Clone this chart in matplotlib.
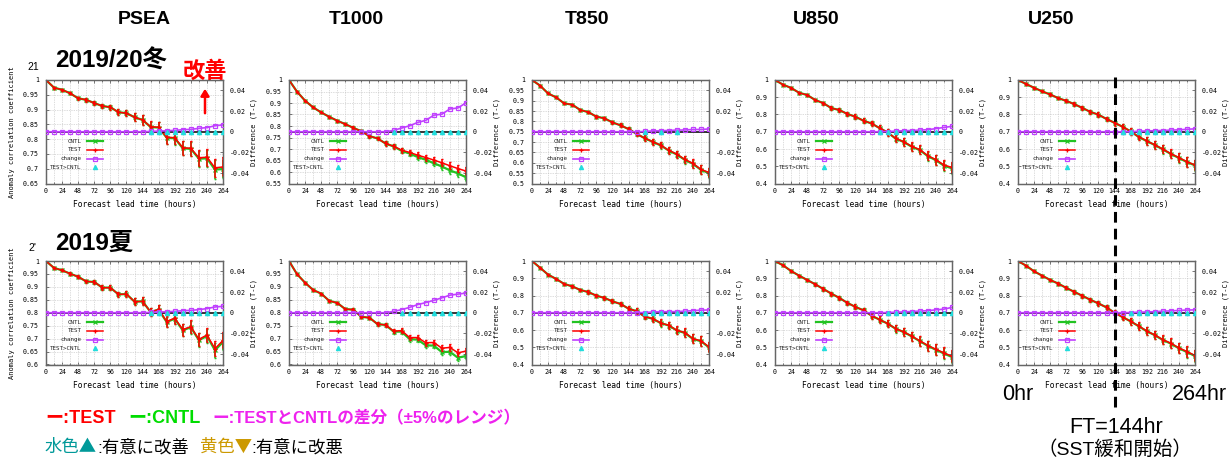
import matplotlib
matplotlib.use("Agg")
import matplotlib.pyplot as plt
from matplotlib.lines import Line2D
from matplotlib.ticker import FixedLocator, MultipleLocator, FuncFormatter
from matplotlib.transforms import blended_transform_factory

# ---------------- data ----------------
FT = [0, 12, 24, 36, 48, 60, 72, 84, 96, 108, 120, 132, 144,
      156, 168, 180, 192, 204, 216, 228, 240, 252, 264]
XTICKS = [0, 24, 48, 72, 96, 120, 144, 168, 192, 216, 240, 264]
DIFF_TICKS = [-0.04, -0.02, 0, 0.02, 0.04]
COLUMNS = ["PSEA", "T1000", "T850", "U850", "U250"]
ROW_LABELS = ["2019/20冬", "2019夏"]

# ---- row 1 : 2019/20 winter ----
W_PSEA_TEST = [1.000, 0.974, 0.967, 0.955, 0.938, 0.933, 0.922, 0.912, 0.908, 0.891, 0.888, 0.874, 0.865,
               0.842, 0.840, 0.806, 0.805, 0.771, 0.769, 0.737, 0.739, 0.703, 0.706]
W_PSEA_CNTL = [1.000, 0.974, 0.967, 0.955, 0.938, 0.933, 0.922, 0.912, 0.908, 0.891, 0.888, 0.874, 0.865,
               0.841, 0.839, 0.805, 0.803, 0.769, 0.767, 0.734, 0.735, 0.697, 0.699]
W_PSEA_DIFF = [0, 0, 0, 0, 0, 0, 0, 0, 0, 0, 0, 0, 0,
               0.0003, 0.0006, 0.0010, 0.0013, 0.0020, 0.0023, 0.0033, 0.0040, 0.0058, 0.0066]
W_PSEA_ERR = [0, 0.003, 0.004, 0.004, 0.006, 0.006, 0.007, 0.008, 0.009, 0.010, 0.011, 0.013, 0.016,
              0.018, 0.019, 0.021, 0.022, 0.024, 0.025, 0.027, 0.029, 0.031, 0.032]
W_PSEA_SIG = [156, 168, 180, 192, 204, 216, 228, 240, 252, 264]

W_T1000_TEST = [1.000, 0.949, 0.910, 0.881, 0.859, 0.840, 0.823, 0.808, 0.792, 0.777, 0.756, 0.746, 0.724,
                0.712, 0.695, 0.685, 0.673, 0.663, 0.652, 0.640, 0.627, 0.615, 0.604]
W_T1000_CNTL = [1.000, 0.949, 0.910, 0.881, 0.859, 0.840, 0.823, 0.808, 0.792, 0.777, 0.756, 0.746, 0.724,
                0.711, 0.692, 0.680, 0.665, 0.653, 0.638, 0.624, 0.607, 0.594, 0.577]
W_T1000_DIFF = [0, 0, 0, 0, 0, 0, 0, 0, 0, 0, 0, 0, 0,
                0.0013, 0.0036, 0.0058, 0.0090, 0.0110, 0.0160, 0.0170, 0.0220, 0.0230, 0.0280]
W_T1000_ERR = [0, 0.002, 0.003, 0.003, 0.004, 0.004, 0.005, 0.005, 0.006, 0.006, 0.007, 0.008, 0.009,
               0.010, 0.011, 0.012, 0.013, 0.013, 0.014, 0.015, 0.016, 0.016, 0.017]
W_T1000_SIG = [156, 168, 180, 192, 204, 216, 228, 240, 252, 264]

W_T850_TEST = [1.000, 0.973, 0.935, 0.916, 0.887, 0.881, 0.855, 0.845, 0.823, 0.815, 0.795, 0.781, 0.763,
               0.740, 0.719, 0.702, 0.685, 0.660, 0.642, 0.616, 0.597, 0.568, 0.553]
W_T850_CNTL = [1.000, 0.973, 0.935, 0.916, 0.887, 0.881, 0.855, 0.845, 0.823, 0.815, 0.795, 0.781, 0.763,
               0.740, 0.719, 0.701, 0.684, 0.659, 0.640, 0.614, 0.595, 0.566, 0.550]
W_T850_DIFF = [0, 0, 0, 0, 0, 0, 0, 0, 0, 0, 0, 0, 0,
               0, 0.0003, 0.0008, 0.0010, 0.0012, 0.0016, 0.0017, 0.0022, 0.0022, 0.0027]
W_T850_ERR = [0, 0.002, 0.003, 0.003, 0.004, 0.004, 0.005, 0.005, 0.006, 0.007, 0.008, 0.009, 0.010,
              0.012, 0.013, 0.014, 0.015, 0.016, 0.017, 0.019, 0.020, 0.022, 0.023]
W_T850_SIG = [168, 192, 216]

W_U850_TEST = [1.000, 0.973, 0.954, 0.926, 0.913, 0.884, 0.866, 0.837, 0.826, 0.803, 0.787, 0.764, 0.748,
               0.721, 0.696, 0.661, 0.642, 0.615, 0.596, 0.561, 0.538, 0.507, 0.493]
W_U850_CNTL = [1.000, 0.973, 0.954, 0.926, 0.913, 0.884, 0.866, 0.837, 0.826, 0.803, 0.787, 0.764, 0.748,
               0.721, 0.696, 0.660, 0.641, 0.613, 0.594, 0.558, 0.535, 0.503, 0.488]
W_U850_DIFF = [0, 0, 0, 0, 0, 0, 0, 0, 0, 0, 0, 0, 0,
               0, 0.0002, 0.0006, 0.0010, 0.0012, 0.0016, 0.0020, 0.0030, 0.0042, 0.0052]
W_U850_ERR = [0, 0.004, 0.005, 0.006, 0.007, 0.008, 0.009, 0.010, 0.011, 0.012, 0.013, 0.015, 0.016,
              0.017, 0.019, 0.021, 0.022, 0.024, 0.025, 0.027, 0.028, 0.030, 0.032]
W_U850_SIG = [156, 168, 180, 192, 204, 216, 228, 240, 252, 264]

W_U250_TEST = [1.000, 0.977, 0.955, 0.934, 0.916, 0.895, 0.879, 0.860, 0.838, 0.815, 0.799, 0.774, 0.752,
               0.729, 0.702, 0.671, 0.647, 0.624, 0.599, 0.573, 0.550, 0.526, 0.507]
W_U250_CNTL = [1.000, 0.977, 0.955, 0.934, 0.916, 0.895, 0.879, 0.860, 0.838, 0.815, 0.799, 0.774, 0.752,
               0.729, 0.702, 0.670, 0.646, 0.623, 0.598, 0.571, 0.548, 0.524, 0.505]
W_U250_DIFF = [0, 0, 0, 0, 0, 0, 0, 0, 0, 0, 0, 0, 0,
               0, 0, 0.0005, 0.0008, 0.0010, 0.0012, 0.0016, 0.0018, 0.0024, 0.0028]
W_U250_ERR = [0, 0.004, 0.005, 0.006, 0.007, 0.008, 0.009, 0.010, 0.011, 0.012, 0.013, 0.014, 0.016,
              0.017, 0.019, 0.020, 0.022, 0.023, 0.025, 0.026, 0.028, 0.029, 0.031]
W_U250_SIG = [156, 168, 180, 192, 204, 216, 228, 240, 252, 264]

# ---- row 2 : 2019 summer ----
S_PSEA_TEST = [1.000, 0.973, 0.964, 0.951, 0.939, 0.921, 0.919, 0.897, 0.897, 0.871, 0.872, 0.843, 0.844,
               0.803, 0.813, 0.766, 0.779, 0.735, 0.746, 0.697, 0.714, 0.661, 0.693]
S_PSEA_CNTL = [1.000, 0.973, 0.964, 0.951, 0.939, 0.921, 0.919, 0.897, 0.897, 0.871, 0.872, 0.843, 0.844,
               0.803, 0.812, 0.764, 0.777, 0.732, 0.744, 0.694, 0.710, 0.655, 0.687]
S_PSEA_DIFF = [0, 0, 0, 0, 0, 0, 0, 0, 0, 0, 0, 0, 0,
               0.0003, 0.0007, 0.0010, 0.0013, 0.0020, 0.0023, 0.0030, 0.0040, 0.0056, 0.0062]
S_PSEA_ERR = [0, 0.003, 0.004, 0.005, 0.006, 0.007, 0.008, 0.009, 0.010, 0.011, 0.012, 0.014, 0.015,
              0.017, 0.018, 0.020, 0.021, 0.023, 0.025, 0.026, 0.028, 0.030, 0.031]
S_PSEA_SIG = [156, 168, 180, 192, 204, 216, 228, 240, 252, 264]

S_T1000_TEST = [1.000, 0.949, 0.916, 0.888, 0.874, 0.846, 0.838, 0.814, 0.812, 0.784, 0.781, 0.756, 0.753,
                0.729, 0.731, 0.704, 0.704, 0.684, 0.685, 0.663, 0.666, 0.645, 0.652]
S_T1000_CNTL = [1.000, 0.949, 0.916, 0.888, 0.874, 0.846, 0.838, 0.814, 0.812, 0.784, 0.781, 0.756, 0.753,
                0.727, 0.727, 0.698, 0.696, 0.674, 0.673, 0.648, 0.649, 0.626, 0.633]
S_T1000_DIFF = [0, 0, 0, 0, 0, 0, 0, 0, 0, 0, 0, 0, 0,
                0.0013, 0.0030, 0.0052, 0.0079, 0.0098, 0.0120, 0.0144, 0.0170, 0.0180, 0.0190]
S_T1000_ERR = [0, 0.002, 0.003, 0.003, 0.004, 0.004, 0.005, 0.005, 0.006, 0.006, 0.007, 0.007, 0.008,
               0.008, 0.009, 0.010, 0.010, 0.011, 0.011, 0.012, 0.012, 0.013, 0.013]
S_T1000_SIG = [168, 180, 192, 204, 216, 228, 240, 252, 264]

S_T850_TEST = [1.000, 0.961, 0.921, 0.896, 0.867, 0.853, 0.832, 0.820, 0.799, 0.786, 0.766, 0.751, 0.724,
               0.709, 0.678, 0.666, 0.641, 0.627, 0.598, 0.585, 0.550, 0.537, 0.502]
S_T850_CNTL = [1.000, 0.961, 0.921, 0.896, 0.867, 0.853, 0.832, 0.820, 0.799, 0.786, 0.766, 0.751, 0.724,
               0.709, 0.678, 0.665, 0.640, 0.626, 0.597, 0.583, 0.548, 0.535, 0.499]
S_T850_DIFF = [0, 0, 0, 0, 0, 0, 0, 0, 0, 0, 0, 0, 0,
               0, 0.0002, 0.0007, 0.0010, 0.0010, 0.0011, 0.0015, 0.0020, 0.0025, 0.0027]
S_T850_ERR = [0, 0.003, 0.004, 0.005, 0.006, 0.007, 0.008, 0.009, 0.010, 0.011, 0.012, 0.013, 0.014,
              0.016, 0.017, 0.019, 0.020, 0.022, 0.023, 0.025, 0.026, 0.028, 0.029]
S_T850_SIG = [168, 180, 192, 204, 216, 228, 240, 252, 264]

S_U850_TEST = [1.000, 0.975, 0.942, 0.915, 0.890, 0.865, 0.838, 0.811, 0.786, 0.757, 0.734, 0.714, 0.683,
               0.660, 0.637, 0.608, 0.589, 0.564, 0.537, 0.510, 0.488, 0.467, 0.448]
S_U850_CNTL = [1.000, 0.975, 0.942, 0.915, 0.890, 0.865, 0.838, 0.811, 0.786, 0.757, 0.734, 0.714, 0.683,
               0.660, 0.637, 0.607, 0.588, 0.563, 0.535, 0.508, 0.485, 0.464, 0.443]
S_U850_DIFF = [0, 0, 0, 0, 0, 0, 0, 0, 0, 0, 0, 0, 0,
               0, 0.0002, 0.0005, 0.0008, 0.0012, 0.0016, 0.0020, 0.0028, 0.0035, 0.0052]
S_U850_ERR = [0, 0.004, 0.005, 0.006, 0.007, 0.008, 0.010, 0.011, 0.012, 0.013, 0.015, 0.016, 0.018,
              0.019, 0.021, 0.022, 0.024, 0.026, 0.027, 0.029, 0.031, 0.032, 0.034]
S_U850_SIG = [168, 180, 192, 204, 216, 228, 240, 252, 264]

S_U250_TEST = [1.000, 0.973, 0.940, 0.915, 0.890, 0.869, 0.844, 0.821, 0.798, 0.775, 0.754, 0.731, 0.700,
               0.675, 0.650, 0.623, 0.594, 0.571, 0.544, 0.523, 0.496, 0.475, 0.452]
S_U250_CNTL = [1.000, 0.973, 0.940, 0.915, 0.890, 0.869, 0.844, 0.821, 0.798, 0.775, 0.754, 0.731, 0.700,
               0.675, 0.650, 0.622, 0.593, 0.570, 0.542, 0.521, 0.494, 0.472, 0.449]
S_U250_DIFF = [0, 0, 0, 0, 0, 0, 0, 0, 0, 0, 0, 0, 0,
               0, 0.0002, 0.0005, 0.0008, 0.0010, 0.0015, 0.0018, 0.0022, 0.0026, 0.0028]
S_U250_ERR = [0, 0.004, 0.005, 0.006, 0.007, 0.008, 0.009, 0.010, 0.012, 0.013, 0.014, 0.015, 0.017,
              0.018, 0.020, 0.021, 0.023, 0.025, 0.026, 0.028, 0.030, 0.032, 0.034]
S_U250_SIG = [168, 180, 192, 204, 216, 228, 240, 252, 264]

# axis ranges of the ACC (left) axes
Y_MIN_ROW1 = [0.65, 0.55, 0.5, 0.4, 0.4]
Y_STEP_ROW1 = [0.05, 0.05, 0.05, 0.1, 0.1]
Y_MIN_ROW2 = [0.6, 0.6, 0.4, 0.4, 0.4]
Y_STEP_ROW2 = [0.05, 0.05, 0.1, 0.1, 0.1]

PANELS = [
    [(W_PSEA_TEST, W_PSEA_CNTL, W_PSEA_DIFF, W_PSEA_ERR, W_PSEA_SIG),
     (W_T1000_TEST, W_T1000_CNTL, W_T1000_DIFF, W_T1000_ERR, W_T1000_SIG),
     (W_T850_TEST, W_T850_CNTL, W_T850_DIFF, W_T850_ERR, W_T850_SIG),
     (W_U850_TEST, W_U850_CNTL, W_U850_DIFF, W_U850_ERR, W_U850_SIG),
     (W_U250_TEST, W_U250_CNTL, W_U250_DIFF, W_U250_ERR, W_U250_SIG)],
    [(S_PSEA_TEST, S_PSEA_CNTL, S_PSEA_DIFF, S_PSEA_ERR, S_PSEA_SIG),
     (S_T1000_TEST, S_T1000_CNTL, S_T1000_DIFF, S_T1000_ERR, S_T1000_SIG),
     (S_T850_TEST, S_T850_CNTL, S_T850_DIFF, S_T850_ERR, S_T850_SIG),
     (S_U850_TEST, S_U850_CNTL, S_U850_DIFF, S_U850_ERR, S_U850_SIG),
     (S_U250_TEST, S_U250_CNTL, S_U250_DIFF, S_U250_ERR, S_U250_SIG)],
]
Y_MINS = [Y_MIN_ROW1, Y_MIN_ROW2]
Y_STEPS = [Y_STEP_ROW1, Y_STEP_ROW2]

# ---------------- style ----------------
W, H = 1231, 461
RED = "#ff0000"
GREEN = "#22c322"
PURPLE = "#c040ff"
CYAN = "#22dddd"
MONO = "DejaVu Sans Mono"
SANS = ["Liberation Sans", "Noto Sans CJK JP", "DejaVu Sans"]
CJK = ["Noto Sans CJK JP", "DejaVu Sans"]
plt.rcParams["font.family"] = MONO

fig = plt.figure(figsize=(W / 100, H / 100), dpi=100)

COL_LEFT = [46, 289, 532, 775, 1018]
AX_W = 177
ROW_TOP = [80, 261]
AX_H = 103.5


def fx(px):
    return px / W


def fy(py):
    return 1 - py / H


def gfmt(v, pos):
    return "%g" % round(v, 4)


axes_grid = []
for r in range(2):
    row_axes = []
    for c in range(5):
        left = COL_LEFT[c]
        top = ROW_TOP[r]
        ax = fig.add_axes([fx(left), fy(top + AX_H), AX_W / W, AX_H / H])
        test, cntl, diff, err, sig = PANELS[r][c]
        ymin = Y_MINS[r][c]
        ystep = Y_STEPS[r][c]

        ax.set_xlim(0, 264)
        ax.set_ylim(ymin, 1.0)
        ax.xaxis.set_major_locator(FixedLocator(XTICKS))
        ax.xaxis.set_minor_locator(MultipleLocator(12))
        ax.yaxis.set_major_locator(MultipleLocator(ystep))
        ax.yaxis.set_major_formatter(FuncFormatter(gfmt))
        ax.grid(True, which="both", axis="x", color="#bbbbbb", lw=0.5, ls=(0, (1, 1.5)))
        ax.grid(True, which="major", axis="y", color="#bbbbbb", lw=0.5, ls=(0, (1, 1.5)))
        ax.set_axisbelow(True)
        ax.tick_params(axis="both", which="both", direction="in", labelsize=4.8,
                       width=0.5, color="#444444", right=False, top=True)
        ax.tick_params(axis="both", which="major", length=2.5)
        ax.tick_params(axis="both", which="minor", length=1.5)
        ax.tick_params(axis="x", pad=3.5)
        ax.tick_params(axis="y", pad=5)
        for sp in ax.spines.values():
            sp.set_color("#666666")
            sp.set_linewidth(0.9)

        ax.errorbar(FT, cntl, yerr=err, color=GREEN, lw=1.6, marker="x", ms=3, mew=1.0,
                    elinewidth=1.2, capsize=1.0, zorder=3)
        ax.errorbar(FT, test, yerr=err, color=RED, lw=1.1, marker="+", ms=3.5, mew=1.0,
                    elinewidth=1.1, capsize=1.0, zorder=4)

        ax.set_xlabel("Forecast lead time (hours)", fontsize=5.7)
        ax.xaxis.set_label_coords(0.5, -0.155)
        if c == 0:
            ax.set_ylabel("Anomaly correlation coefficient", fontsize=5)
            ax.yaxis.set_label_coords(-0.175, 0.5)

        ax2 = ax.twinx()
        ax2.set_ylim(-0.05, 0.05)
        ax2.yaxis.set_major_locator(FixedLocator(DIFF_TICKS))
        ax2.yaxis.set_major_formatter(FuncFormatter(gfmt))
        ax2.tick_params(axis="y", direction="in", labelsize=4.8, width=0.5, length=2.5,
                        color="#444444", pad=5)
        for sp in ax2.spines.values():
            sp.set_color("#666666")
            sp.set_linewidth(0.9)
        ax2.axhline(0, color="black", lw=1.1, zorder=2)
        ax2.plot(FT, diff, color=PURPLE, lw=1.2, marker="s", ms=2.8, mfc="none", mew=0.9, zorder=3)
        ax2.plot(sig, [0] * len(sig), ls="none", marker="^", color=CYAN, ms=3, zorder=4)
        ax2.set_ylabel("Difference (T-C)", fontsize=5)
        ax2.yaxis.set_label_coords(1.158, 0.5)

        # gnuplot-like key (labels right-aligned, samples to the right)
        key_rows = [0.41, 0.325, 0.24, 0.155]
        key_items = [("CNTL", GREEN, "x", 1.6), ("TEST", RED, "+", 1.1),
                     ("change", PURPLE, "s", 1.2), ("TEST>CNTL", CYAN, "^", 0)]
        for ky, (lab, col, mk, lw) in zip(key_rows, key_items):
            ax2.text(0.20, ky, lab, transform=ax2.transAxes, ha="right", va="center",
                     fontsize=4.2, color="#222222")
            if lw > 0:
                ax2.add_line(Line2D([0.23, 0.32], [ky, ky], transform=ax2.transAxes,
                                    color=col, lw=lw))
            ax2.add_line(Line2D([0.275], [ky], transform=ax2.transAxes, color=col, ls="none",
                                marker=mk, ms=3, mew=0.9,
                                mfc="none" if mk == "s" else col))
        row_axes.append((ax, ax2))
    axes_grid.append(row_axes)

# ---------------- annotations ----------------
COL_CENTER = [144, 356, 587, 816, 1051]
for name, cx in zip(COLUMNS, COL_CENTER):
    fig.text(fx(cx), fy(20), name, ha="center", va="center", fontsize=14,
             fontweight="bold", family=SANS)

fig.text(fx(55), fy(61), ROW_LABELS[0], ha="left", va="center", fontsize=17.5,
         fontweight="bold", family=SANS)
fig.text(fx(55), fy(243), ROW_LABELS[1], ha="left", va="center", fontsize=17.5,
         fontweight="bold", family=SANS)
fig.text(fx(27), fy(67), "21", ha="left", va="center", fontsize=7.5, family=SANS)
fig.text(fx(28), fy(248), "2'", ha="left", va="center", fontsize=7.5, family=SANS)

fig.text(fx(205), fy(72), "改善", ha="center", va="center", fontsize=16,
         fontweight="bold", color=RED, family=SANS)
fig.add_artist(matplotlib.patches.FancyArrowPatch(
    (fx(205), fy(116)), (fx(205), fy(86)), transform=fig.transFigure,
    arrowstyle="-|>,head_length=4,head_width=2.5", color=RED, lw=1.8))

# dashed line at FT=144 through the U250 panels
u250_ax = axes_grid[0][4][0]
blend = blended_transform_factory(u250_ax.transData, fig.transFigure)
fig.add_artist(Line2D([144, 144], [fy(77), fy(412)], transform=blend, color="black",
                      lw=2.2, ls=(0, (3.5, 2))))

fig.text(fx(1018), fy(394), "0hr", ha="center", va="center", fontsize=15.5, family=SANS)
fig.text(fx(1199), fy(394), "264hr", ha="center", va="center", fontsize=15.5, family=SANS)
fig.text(fx(1116), fy(427), "FT=144hr", ha="center", va="center", fontsize=15.5, family=SANS)
fig.text(fx(1115), fy(450), "（SST緩和開始）", ha="center", va="center", fontsize=14, family=SANS)

# bottom legend text
fig.text(fx(45), fy(418), "ー:TEST", ha="left", va="center", fontsize=13,
         fontweight="bold", color=RED, family=SANS)
fig.text(fx(128), fy(418), "ー:CNTL", ha="left", va="center", fontsize=13,
         fontweight="bold", color="#00dd00", family=SANS)
fig.text(fx(212), fy(418), "ー:TESTとCNTLの差分（±5%のレンジ）", ha="left", va="center",
         fontsize=12, fontweight="bold", color="#ee22ee", family=SANS)
fig.text(fx(45), fy(447), "水色▲", ha="left", va="center", fontsize=12.5,
         color="#009999", family=CJK)
fig.text(fx(97), fy(447), ":有意に改善", ha="left", va="center", fontsize=12.5,
         color="black", family=SANS)
fig.text(fx(200), fy(447), "黄色▼", ha="left", va="center", fontsize=12.5,
         color="#cc9900", family=CJK)
fig.text(fx(251), fy(447), ":有意に改悪", ha="left", va="center", fontsize=12.5,
         color="black", family=SANS)

fig.savefig("out.png", dpi=100)
